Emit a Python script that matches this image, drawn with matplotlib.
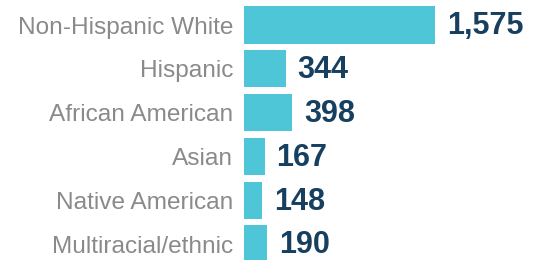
import matplotlib
matplotlib.use("Agg")
import matplotlib.pyplot as plt

categories = ["Non-Hispanic White", "Hispanic", "African American", "Asian",
              "Native American", "Multiracial/ethnic"]
values = [1575, 344, 398, 167, 148, 190]
value_labels = ["1,575", "344", "398", "167", "148", "190"]

W, H, DPI = 537, 260, 100
fig = plt.figure(figsize=(W / DPI, H / DPI), dpi=DPI)
left_px = 244.3
ax = fig.add_axes([left_px / W, 0, (W - left_px) / W, 1])

px_per_unit = 0.1211
ax.set_xlim(0, (W - left_px) / px_per_unit)
pitch = 43.8
c0 = 25.0
ax.set_ylim((H - c0) / pitch, -c0 / pitch)

bar_color = "#4fc5d8"
ypos = list(range(len(categories)))
ax.barh(ypos, values, height=0.845, color=bar_color, edgecolor="none")

ax.set_yticks(ypos)
ax.set_yticklabels(categories, fontsize=17.6, color="#8a8a8a",
                   family=["Liberation Sans", "DejaVu Sans"])
ax.tick_params(axis="y", length=0, pad=8)
ax.tick_params(axis="x", bottom=False, labelbottom=False)
for s in ax.spines.values():
    s.set_visible(False)

for y, v, lab in zip(ypos, values, value_labels):
    ax.annotate(lab, xy=(v, y), xytext=(8.5, -1), textcoords="offset points",
                ha="left", va="center", fontsize=22, fontweight="bold",
                color="#173f5f", family=["Liberation Sans", "DejaVu Sans"])

fig.savefig("out.png", dpi=DPI)
